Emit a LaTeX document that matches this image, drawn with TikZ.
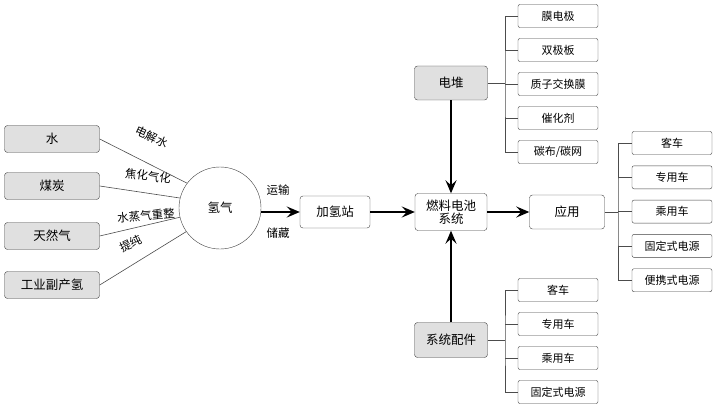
\documentclass[tikz,border=0pt]{standalone}
\usepackage{fontspec}
\setmainfont{Noto Sans CJK SC}
\usetikzlibrary{arrows.meta}
\tikzset{
  box/.style={draw=black!75,rounded corners=3pt,minimum height=27pt,align=center,inner sep=1pt},
  src/.style={box,fill=black!12,minimum width=95pt},
  leaf/.style={draw=black!75,rounded corners=2pt,minimum width=80pt,minimum height=23pt,font=\fontsize{11}{12}\selectfont},
  big/.style={line width=2.2pt,-{Stealth[length=13pt,width=11pt,inset=5pt]}},
  thin/.style={draw=black!70,line width=0.6pt},
  lab/.style={font=\fontsize{11.5}{12}\selectfont,inner sep=0pt}
}
\begin{document}
\begin{tikzpicture}[x=1pt,y=-1pt,font=\fontsize{12.5}{14}\selectfont]
  \useasboundingbox (0,0) rectangle (720,409);
  % sources
  \node[src] (water) at (52,139) {水};
  \node[src] (coal) at (52,186) {煤炭};
  \node[src] (gas) at (52,236) {天然气};
  \node[src] (ind) at (52,285) {工业副产氢};
  \node[draw=black!75,circle,minimum size=82pt] (h2) at (220,208) {氢气};
  \draw[thin] (water.east) -- (h2.143);
  \draw[thin] (coal.east) -- (h2.166);
  \draw[thin] (gas.east) -- (h2.193);
  \draw[thin] (ind.east) -- (h2.215);
  \node[lab,rotate=-25] at (152,137) {电解水};
  \node[lab,rotate=-8] at (148,176) {焦化气化};
  \node[lab,rotate=5] at (146,216) {水蒸气重整};
  \node[lab,rotate=25] at (131,244) {提纯};
  % chain
  \node[box,minimum width=70pt,minimum height=32pt] (station) at (335,212) {加氢站};
  \node[box,minimum width=72pt,minimum height=37pt,font=\fontsize{12.5}{13}\selectfont] (fc) at (451,212) {燃料电池\\系统};
  \node[box,minimum width=75pt,minimum height=34pt] (app) at (567,212) {应用};
  \node[box,fill=black!12,minimum width=73pt,minimum height=34pt] (stack) at (451,83) {电堆};
  \node[box,fill=black!12,minimum width=73pt,minimum height=35pt] (parts) at (451,340) {系统配件};
  \draw[big] (h2.east|-station) -- (station);
  \node[lab] at (278,190) {运输};
  \node[lab] at (278,233) {储藏};
  \draw[big] (station) -- (fc);
  \draw[big] (fc) -- (app);
  \draw[big] (stack) -- (fc);
  \draw[big] (parts) -- (fc);
  % stack parts
  \foreach \t [count=\i] in {膜电极,双极板,质子交换膜,催化剂,碳布/碳网}
    \node[leaf] (s\i) at (558,{16+34*(\i-1)}) {\t};
  \draw[thin] (stack.east) -- (505,83);
  \draw[thin] (s1.west) -| (505,83) |- (s5.west);
  \foreach \i in {2,3,4} \draw[thin] (505,0|-s\i.west) -- (s\i.west);
  % applications
  \foreach \t [count=\i] in {客车,专用车,乘用车,固定式电源,便携式电源}
    \node[leaf] (a\i) at (672,{143+34.3*(\i-1)}) {\t};
  \draw[thin] (app.east) -- (618,212);
  \draw[thin] (a1.west) -| (618,212) |- (a5.west);
  \foreach \i in {2,3,4} \draw[thin] (618,0|-a\i.west) -- (a\i.west);
  % system parts
  \foreach \t [count=\i] in {客车,专用车,乘用车,固定式电源}
    \node[leaf] (p\i) at (558,{290+34*(\i-1)}) {\t};
  \draw[thin] (parts.east) -- (505,340);
  \draw[thin] (p1.west) -| (505,340) |- (p4.west);
  \foreach \i in {2,3} \draw[thin] (505,0|-p\i.west) -- (p\i.west);
\end{tikzpicture}
\end{document}
